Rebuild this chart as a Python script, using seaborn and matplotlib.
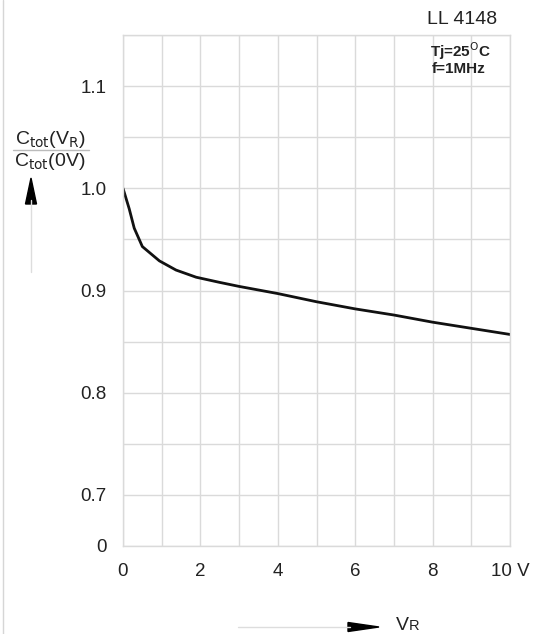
import numpy as np
import pandas as pd
import matplotlib
matplotlib.use('Agg')
import matplotlib.pyplot as plt
from matplotlib.lines import Line2D
import seaborn as sns

# reverse voltage (V) and normalised capacitance Ctot(VR)/Ctot(0V)
vr = [0.0, 0.16, 0.29, 0.5, 0.94, 1.37, 1.89, 2.49, 3.0, 4.0, 5.0, 6.0, 7.0, 8.0, 9.0, 10.0]
c_ratio = [1.0, 0.980, 0.961, 0.943, 0.929, 0.920, 0.913, 0.908, 0.904, 0.897,
           0.889, 0.882, 0.876, 0.869, 0.863, 0.857]

xtick_vals = [0, 2, 4, 6, 8, 10]
xtick_labels = ['0', '2', '4', '6', '8', '10 V']
ytick_vals = [0.65, 0.7, 0.8, 0.9, 1.0, 1.1]
ytick_labels = ['0', '0.7', '0.8', '0.9', '1.0', '1.1']

df = pd.DataFrame({'VR': vr, 'C': c_ratio})

sns.set_style('white')
plt.rcParams['font.family'] = ['Liberation Sans', 'DejaVu Sans']

W, H = 538, 634
fig = plt.figure(figsize=(W / 100, H / 100), dpi=100)
ax = fig.add_axes([123 / W, 88 / H, 387 / W, 511 / H])

sns.lineplot(data=df, x='VR', y='C', color='#111111', linewidth=2, ax=ax)

ax.set_xlim(0, 10)
ax.set_ylim(0.65, 1.15)
ax.set_xticks(np.arange(0, 11, 1), minor=True)
ax.set_yticks(np.arange(0.65, 1.151, 0.05), minor=True)
ax.set_xticks(xtick_vals)
ax.set_xticklabels(xtick_labels)
ax.set_yticks(ytick_vals)
ax.set_yticklabels(ytick_labels)
ax.grid(which='both', color='#dadada', linewidth=1)
ax.tick_params(which='both', length=0, labelsize=13.5, colors='#222222')
ax.tick_params(axis='x', pad=12)
ax.tick_params(axis='y', pad=12)
for s in ax.spines.values():
    s.set_color('#dadada')
    s.set_linewidth(1)
ax.set_xlabel('')
ax.set_ylabel('')


def fx(px):
    return px / W


def fy(py):
    return 1 - py / H


# top-right annotations
fig.text(fx(462), fy(20), 'LL 4148', ha='center', va='center', fontsize=14, color='#222222')
fig.text(fx(461), fy(51), r'Tj=25$^{\mathrm{O}}$C', ha='center', va='center',
         fontsize=11, fontweight='bold', color='#222222')
fig.text(fx(459), fy(69), 'f=1MHz', ha='center', va='center',
         fontsize=11, fontweight='bold', color='#222222')

# y-axis quantity label as fraction with arrow
fig.text(fx(50), fy(139), r'C$_{\rm tot}$(V$_{\rm R}$)', ha='center', va='center',
         fontsize=14, color='#222222')
fig.text(fx(50), fy(161), r'C$_{\rm tot}$(0V)', ha='center', va='center',
         fontsize=14, color='#222222')
fig.add_artist(Line2D([fx(13), fx(89)], [fy(150), fy(150)], color='#bbbbbb', linewidth=1))
fig.add_artist(Line2D([fx(31), fx(31)], [fy(272), fy(200)], color='#dddddd', linewidth=1))
fig.patches.append(plt.Polygon([[fx(25.5), fy(204)], [fx(36.5), fy(204)], [fx(31), fy(178)]],
                               closed=True, color='black', transform=fig.transFigure, figure=fig))

# x-axis quantity label with arrow
fig.add_artist(Line2D([fx(238), fx(350)], [fy(627), fy(627)], color='#dddddd', linewidth=1))
fig.patches.append(plt.Polygon([[fx(348), fy(622.5)], [fx(348), fy(631.5)], [fx(379), fy(627)]],
                               closed=True, color='black', transform=fig.transFigure, figure=fig))
fig.text(fx(396), fy(630), 'V', ha='left', va='baseline', fontsize=14, color='#222222')
fig.text(fx(408.5), fy(630), 'R', ha='left', va='baseline', fontsize=10.5, color='#222222')

# left frame line of the sheet
fig.add_artist(Line2D([fx(3), fx(3)], [0, 1], color='#d6d6d6', linewidth=1))

fig.savefig('out.png', dpi=100)
